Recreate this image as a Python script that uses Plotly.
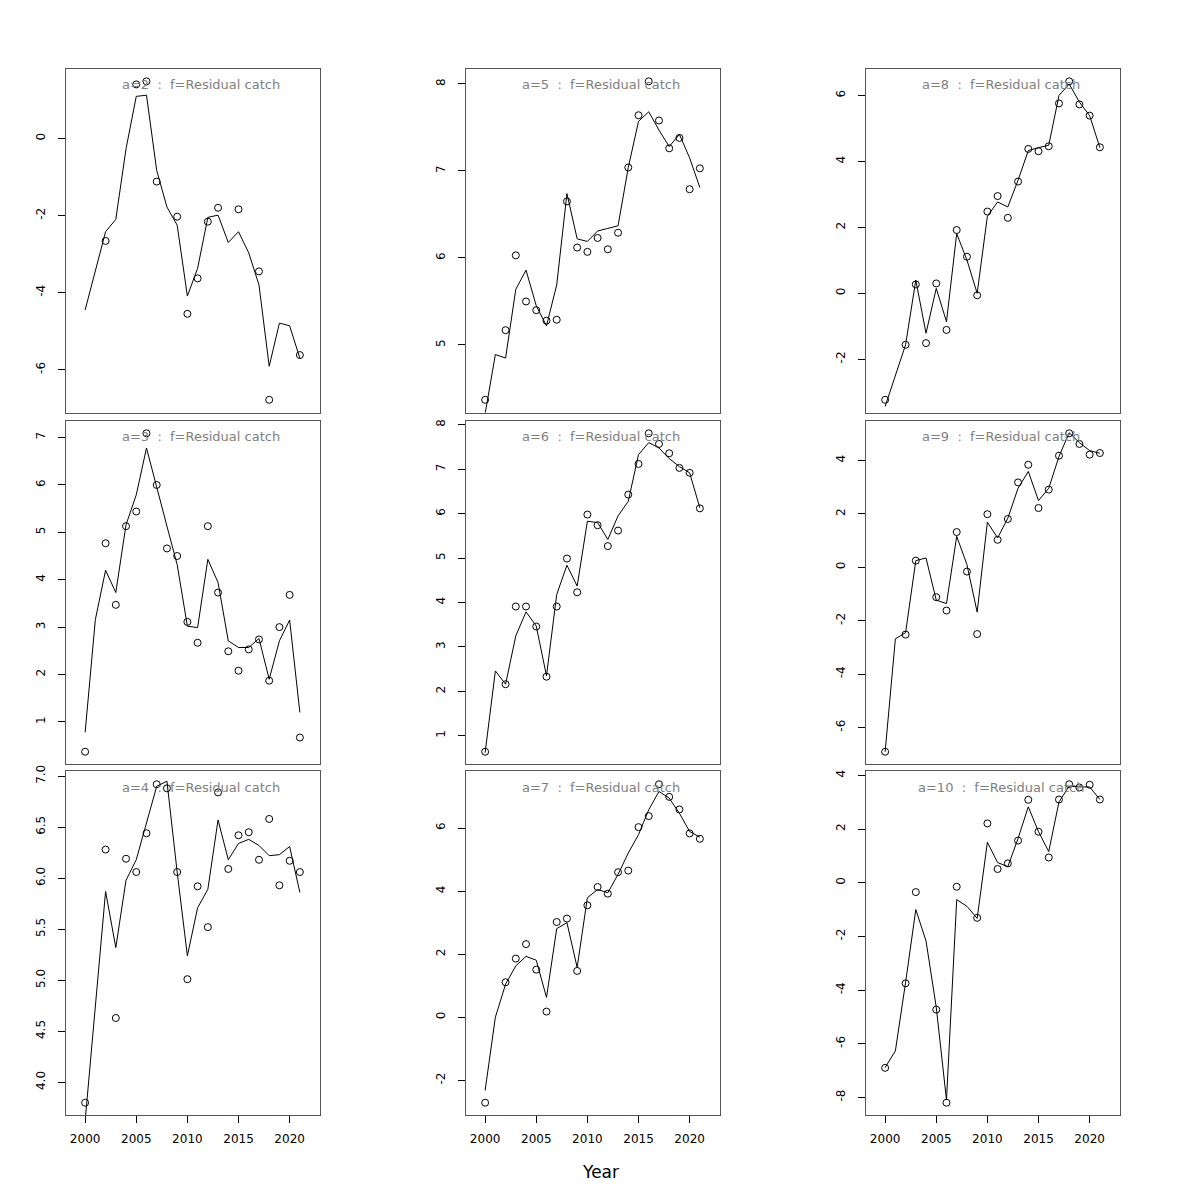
import plotly.graph_objects as go

years = list(range(2000, 2022))
ages = [2, 3, 4, 5, 6, 7, 8, 9, 10]

# observed residual catch (None = no observation)
obs_a2 = [None, None, -2.66, None, None, 1.40, 1.48, -1.12, None, -2.03, -4.55, -3.63, -2.16, -1.80, None, -1.84, None, -3.45, -6.78, None, None, -5.62]
fit_a2 = [-4.45, -3.43, -2.42, -2.10, -0.27, 1.09, 1.12, -0.83, -1.78, -2.25, -4.09, -3.37, -2.05, -1.99, -2.70, -2.42, -2.97, -3.80, -5.91, -4.79, -4.86, -5.70]

obs_a3 = [0.37, None, 4.77, 3.47, 5.13, 5.44, 7.09, 6.00, 4.66, 4.50, 3.11, 2.67, 5.13, 3.73, 2.49, 2.08, 2.53, 2.74, 1.87, 3.00, 3.68, 0.67]
fit_a3 = [0.78, 3.16, 4.20, 3.73, 5.16, 5.79, 6.78, 5.93, 5.13, 4.32, 3.02, 2.99, 4.43, 3.94, 2.71, 2.57, 2.57, 2.76, 1.90, 2.71, 3.15, 1.20]

obs_a4 = [3.80, None, 6.28, 4.63, 6.19, 6.06, 6.44, 6.92, 6.88, 6.06, 5.01, 5.92, 5.52, 6.84, 6.09, 6.42, 6.45, 6.18, 6.58, 5.93, 6.17, 6.06]
fit_a4 = [3.62, 4.78, 5.87, 5.32, 5.98, 6.18, 6.54, 6.90, 6.95, 6.06, 5.24, 5.71, 5.89, 6.57, 6.18, 6.34, 6.38, 6.32, 6.22, 6.23, 6.31, 5.86]

obs_a5 = [4.37, None, 5.17, 6.03, 5.50, 5.40, 5.28, 5.29, 6.65, 6.12, 6.07, 6.23, 6.10, 6.29, 7.04, 7.64, 8.03, 7.58, 7.26, 7.38, 6.79, 7.03]
fit_a5 = [4.21, 4.89, 4.85, 5.64, 5.86, 5.45, 5.22, 5.69, 6.74, 6.22, 6.19, 6.31, 6.34, 6.37, 7.04, 7.57, 7.68, 7.47, 7.28, 7.42, 7.15, 6.81]

obs_a6 = [0.64, None, 2.16, 3.91, 3.91, 3.46, 2.33, 3.91, 4.99, 4.23, 5.98, 5.74, 5.27, 5.62, 6.43, 7.12, 7.81, 7.57, 7.36, 7.03, 6.92, 6.12]
fit_a6 = [0.62, 2.46, 2.16, 3.25, 3.79, 3.47, 2.35, 4.18, 4.84, 4.37, 5.83, 5.80, 5.42, 5.95, 6.28, 7.33, 7.60, 7.48, 7.24, 7.06, 6.92, 6.13]

obs_a7 = [-2.71, None, 1.11, 1.86, 2.32, 1.51, 0.18, 3.02, 3.13, 1.47, 3.55, 4.13, 3.92, 4.60, 4.65, 6.03, 6.38, 7.39, 6.99, 6.59, 5.83, 5.66]
fit_a7 = [-2.32, 0.00, 1.05, 1.63, 1.93, 1.81, 0.63, 2.81, 3.00, 1.58, 3.79, 4.05, 3.95, 4.53, 5.21, 5.79, 6.58, 7.16, 6.95, 6.47, 5.89, 5.71]

obs_a8 = [-3.23, None, -1.56, 0.27, -1.51, 0.30, -1.11, 1.92, 1.11, -0.06, 2.48, 2.95, 2.29, 3.39, 4.38, 4.31, 4.46, 5.76, 6.43, 5.73, 5.39, 4.43]
fit_a8 = [-3.43, -2.50, -1.56, 0.40, -1.21, 0.15, -0.86, 1.81, 1.01, 0.00, 2.34, 2.77, 2.62, 3.43, 4.33, 4.42, 4.49, 6.00, 6.35, 5.80, 5.39, 4.42]

obs_a9 = [-6.91, None, -2.52, 0.25, None, -1.12, -1.62, 1.32, -0.16, -2.50, 1.99, 1.03, 1.81, 3.18, 3.84, 2.22, 2.91, 4.18, 5.02, 4.62, 4.22, 4.28]
fit_a9 = [-6.91, -2.68, -2.45, 0.25, 0.35, -1.23, -1.36, 1.16, 0.10, -1.68, 1.69, 1.10, 1.84, 2.96, 3.59, 2.50, 2.96, 4.15, 5.04, 4.67, 4.37, 4.27]

obs_a10 = [-6.90, None, -3.75, -0.35, None, -4.73, -8.20, -0.15, None, -1.31, 2.21, 0.51, 0.72, 1.57, 3.09, 1.90, 0.94, 3.10, 3.67, 3.55, 3.65, 3.10]
fit_a10 = [-6.89, -6.27, -3.72, -1.00, -2.17, -4.64, -8.10, -0.63, -0.88, -1.33, 1.51, 0.75, 0.60, 1.65, 2.83, 1.90, 1.16, 3.01, 3.60, 3.57, 3.57, 3.10]

obs = {2: obs_a2, 3: obs_a3, 4: obs_a4, 5: obs_a5, 6: obs_a6, 7: obs_a7, 8: obs_a8, 9: obs_a9, 10: obs_a10}
fit = {2: fit_a2, 3: fit_a3, 4: fit_a4, 5: fit_a5, 6: fit_a6, 7: fit_a7, 8: fit_a8, 9: fit_a9, 10: fit_a10}

ytick_vals = {
    2: [-6, -4, -2, 0],
    3: [1, 2, 3, 4, 5, 6, 7],
    4: [4.0, 4.5, 5.0, 5.5, 6.0, 6.5, 7.0],
    5: [5, 6, 7, 8],
    6: [1, 2, 3, 4, 5, 6, 7, 8],
    7: [-2, 0, 2, 4, 6],
    8: [-2, 0, 2, 4, 6],
    9: [-6, -4, -2, 0, 2, 4],
    10: [-8, -6, -4, -2, 0, 2, 4],
}
ytick_text = {
    2: ["-6", "-4", "-2", "0"],
    3: ["1", "2", "3", "4", "5", "6", "7"],
    4: ["4.0", "4.5", "5.0", "5.5", "6.0", "6.5", "7.0"],
    5: ["5", "6", "7", "8"],
    6: ["1", "2", "3", "4", "5", "6", "7", "8"],
    7: ["-2", "0", "2", "4", "6"],
    8: ["-2", "0", "2", "4", "6"],
    9: ["-6", "-4", "-2", "0", "2", "4"],
    10: ["-8", "-6", "-4", "-2", "0", "2", "4"],
}
xtick_vals = [2000, 2005, 2010, 2015, 2020]
x_axis_span = [1999, 2022]
x_title = "Year"
panel_title = "a={}\u00a0\u00a0:\u00a0\u00a0f=Residual catch"

W = H = 1200
# page offset compensation (observed rendering shift)
OFF_X, OFF_Y, SC_Y = 7.5, 14.4, 0.9943

def px_x(x):
    return (x - OFF_X) / W

def px_y(y):
    return 1 - ((y - OFF_Y) / SC_Y) / H

col_left = [65, 465, 865]
row_top = [68, 420, 771]
pw, ph = 254, 344

fig = go.Figure()
layout = dict(
    width=W, height=H, margin=dict(l=0, r=0, t=0, b=0),
    paper_bgcolor="white", plot_bgcolor="white", showlegend=False,
    font=dict(family="DejaVu Sans", size=12, color="black"),
)
annotations = []

def pad_range(lo, hi):
    d = (hi - lo) * 0.04
    return [lo - d, hi + d]

for i, a in enumerate(ages):
    col = i // 3
    row = i % 3
    n = i + 1
    xa = "x" if n == 1 else f"x{n}"
    ya = "y" if n == 1 else f"y{n}"
    xkey = "xaxis" if n == 1 else f"xaxis{n}"
    ykey = "yaxis" if n == 1 else f"yaxis{n}"

    fig.add_trace(go.Scatter(x=years, y=fit[a], mode="lines",
                             line=dict(color="black", width=1),
                             xaxis=xa, yaxis=ya, hoverinfo="skip"))
    fig.add_trace(go.Scatter(x=years, y=obs[a], mode="markers",
                             marker=dict(symbol="circle-open", size=7, color="black",
                                         line=dict(width=1, color="black")),
                             xaxis=xa, yaxis=ya, cliponaxis=False))

    vals = [v for v in obs[a] if v is not None]
    yr = pad_range(min(vals), max(vals))
    xr = pad_range(x_axis_span[0], x_axis_span[1])

    x0 = px_x(col_left[col])
    x1 = px_x(col_left[col] + pw)
    y1 = px_y(row_top[row])
    y0 = px_y(row_top[row] + ph)
    bottom = (row == 2)

    layout[xkey] = dict(
        domain=[x0, x1], range=xr, anchor=ya,
        showgrid=False, zeroline=False,
        showline=True, mirror=True, linecolor="#555555", linewidth=1,
        tickmode="array", tickvals=xtick_vals if bottom else [],
        ticks="outside" if bottom else "", ticklen=7, tickcolor="black",
        showticklabels=bottom, tickfont=dict(size=12, color="black"),
        ticklabelstandoff=5,
    )
    layout[ykey] = dict(
        domain=[y0, y1], range=yr, anchor=xa,
        showgrid=False, zeroline=False,
        showline=True, mirror=True, linecolor="#555555", linewidth=1,
        tickmode="array", tickvals=ytick_vals[a], ticktext=ytick_text[a],
        ticks="outside", ticklen=7, tickcolor="black",
        tickangle=-90, tickfont=dict(size=12, color="black"),
        ticklabelstandoff=8,
    )
    annotations.append(dict(
        text=panel_title.format(a), xref="paper", yref="paper",
        x=px_x(col_left[col] + 135.5), y=px_y(row_top[row] + 16),
        xanchor="center", yanchor="middle", showarrow=False,
        font=dict(family="DejaVu Sans", size=13, color="#7f7f7f"),
    ))

annotations.append(dict(
    text=x_title, xref="paper", yref="paper", x=px_x(600), y=px_y(1172),
    xanchor="center", yanchor="middle", showarrow=False,
    font=dict(family="DejaVu Sans", size=17, color="black"),
))
layout["annotations"] = annotations
fig.update_layout(**layout)
fig.write_html("out.html")
